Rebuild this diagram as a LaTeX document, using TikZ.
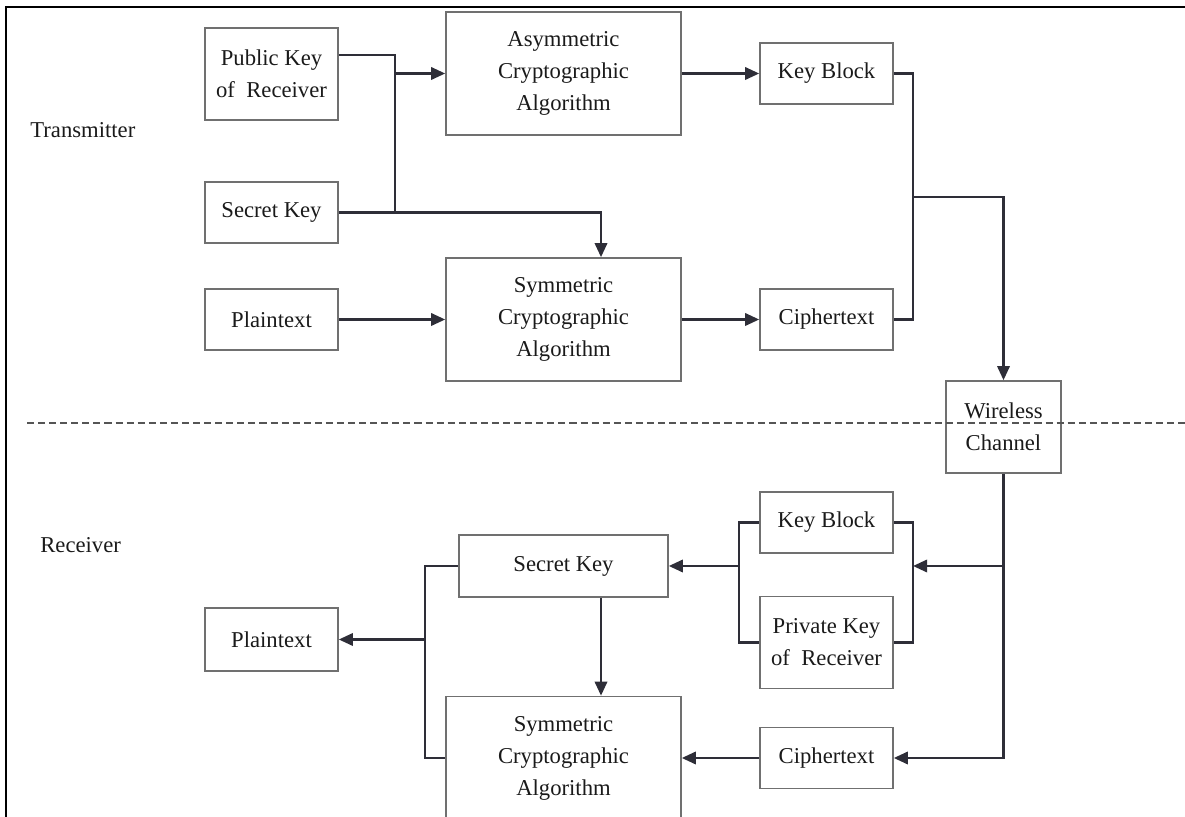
\documentclass[tikz,border=0pt]{standalone}
\usepackage{fontspec}
\setmainfont{Liberation Serif}
\usetikzlibrary{arrows.meta}
\definecolor{boxgray}{HTML}{707070}
\definecolor{linedark}{HTML}{2E2E38}
\definecolor{dashgray}{HTML}{555555}
\definecolor{txtdark}{HTML}{1A1A1A}
\begin{document}
\begin{tikzpicture}
    \tikzset{% This is the style settings for nodes
    blk/.style={rectangle,draw=boxgray,line width=0.9pt,text=txtdark,align=center,
        inner sep=0pt,font=\fontsize{12.9}{18.2}\selectfont},
    lbl/.style={anchor=west,text=txtdark,inner sep=0pt,font=\fontsize{12.9}{18.2}\selectfont},
    c1/.style={draw=linedark,line width=1.4pt},
    a1/.style={c1,-{Triangle[length=8pt,width=7pt]}},
    }
    \useasboundingbox (0,0) rectangle (23.7,16.34);
    % frame
    \draw[line width=1.3pt] (0.12,-0.1) -- (0.12,16.2) -- (23.8,16.2);

    % Nodes
    \node[lbl] (tx) at (0.6,13.74) {Transmitter};
    \node[lbl] (rx) at (0.8,5.44) {Receiver};

    \node[blk,minimum width=2.66cm,minimum height=1.84cm] (pubT) at (5.43,14.86) {Public Key\\of\ \ Receiver};
    \node[blk,minimum width=2.66cm,minimum height=1.22cm] (secT) at (5.43,12.09) {Secret Key};
    \node[blk,minimum width=2.66cm,minimum height=1.22cm] (plainT) at (5.43,9.95) {Plaintext};
    \node[blk,minimum width=4.70cm,minimum height=2.46cm] (asym) at (11.27,14.87) {Asymmetric\\Cryptographic\\Algorithm};
    \node[blk,minimum width=4.70cm,minimum height=2.46cm] (symT) at (11.27,9.95) {Symmetric\\Cryptographic\\Algorithm};
    \node[blk,minimum width=2.66cm,minimum height=1.22cm] (keyT) at (16.53,14.87) {Key Block};
    \node[blk,minimum width=2.66cm,minimum height=1.22cm] (ciphT) at (16.53,9.95) {Ciphertext};
    \node[blk,minimum width=2.30cm,minimum height=1.84cm] (wire) at (20.07,7.80) {Wireless\\Channel};

    \node[blk,minimum width=2.66cm,minimum height=1.22cm] (keyR) at (16.53,5.89) {Key Block};
    \node[blk,minimum width=2.66cm,minimum height=1.84cm] (privR) at (16.53,3.49) {Private Key\\of\ \ Receiver};
    \node[blk,minimum width=2.66cm,minimum height=1.22cm] (ciphR) at (16.53,1.18) {Ciphertext};
    \node[blk,minimum width=4.18cm,minimum height=1.24cm] (secR) at (11.27,5.02) {Secret Key};
    \node[blk,minimum width=2.66cm,minimum height=1.26cm] (plainR) at (5.43,3.55) {Plaintext};
    \node[blk,minimum width=4.70cm,minimum height=2.46cm] (symR) at (11.27,1.18) {Symmetric\\Cryptographic\\Algorithm};

    % junctions
    \coordinate (j1) at (7.90,12.09);
    \coordinate (j2) at (18.26,12.40);
    \coordinate (j3) at (20.07,5.02);
    \coordinate (j4) at (18.26,5.02);
    \coordinate (j5) at (14.78,5.02);
    \coordinate (j6) at (8.50,3.55);

    %Edges
    \draw[c1] ([yshift=0.38cm]pubT.east) -| (j1);
    \draw[a1] (j1 |- asym.west) -- (asym.west);
    \draw[a1] (secT.east) -| ([xshift=0.75cm]symT.north);
    \draw[a1] (plainT.east) -- (symT.west);
    \draw[a1] (asym.east) -- (keyT.west);
    \draw[a1] (symT.east) -- (ciphT.west);
    \draw[c1] (keyT.east) -| (j2) |- (ciphT.east);
    \draw[a1] (j2) -| (wire.north);

    \draw[a1] (wire.south) |- (ciphR.east);
    \draw[a1] (j3) -- (j4);
    \draw[c1] (keyR.east) -| (j4) |- (privR.east);
    \draw[c1] (keyR.west) -| (j5) |- (privR.west);
    \draw[a1] (j5) -- (secR.east);
    \draw[a1] ([xshift=0.75cm]secR.south) -- ([xshift=0.75cm]symR.north);
    \draw[a1] (ciphR.west) -- (symR.east);
    \draw[c1] (secR.west) -| (j6) |- (symR.west);
    \draw[a1] (j6) -- (plainR.east);

    % divider
    \draw[draw=dashgray,line width=1.6pt,dash pattern=on 4pt off 2.3pt] (0.54,7.88) -- (23.7,7.88);
\end{tikzpicture}
\end{document}
